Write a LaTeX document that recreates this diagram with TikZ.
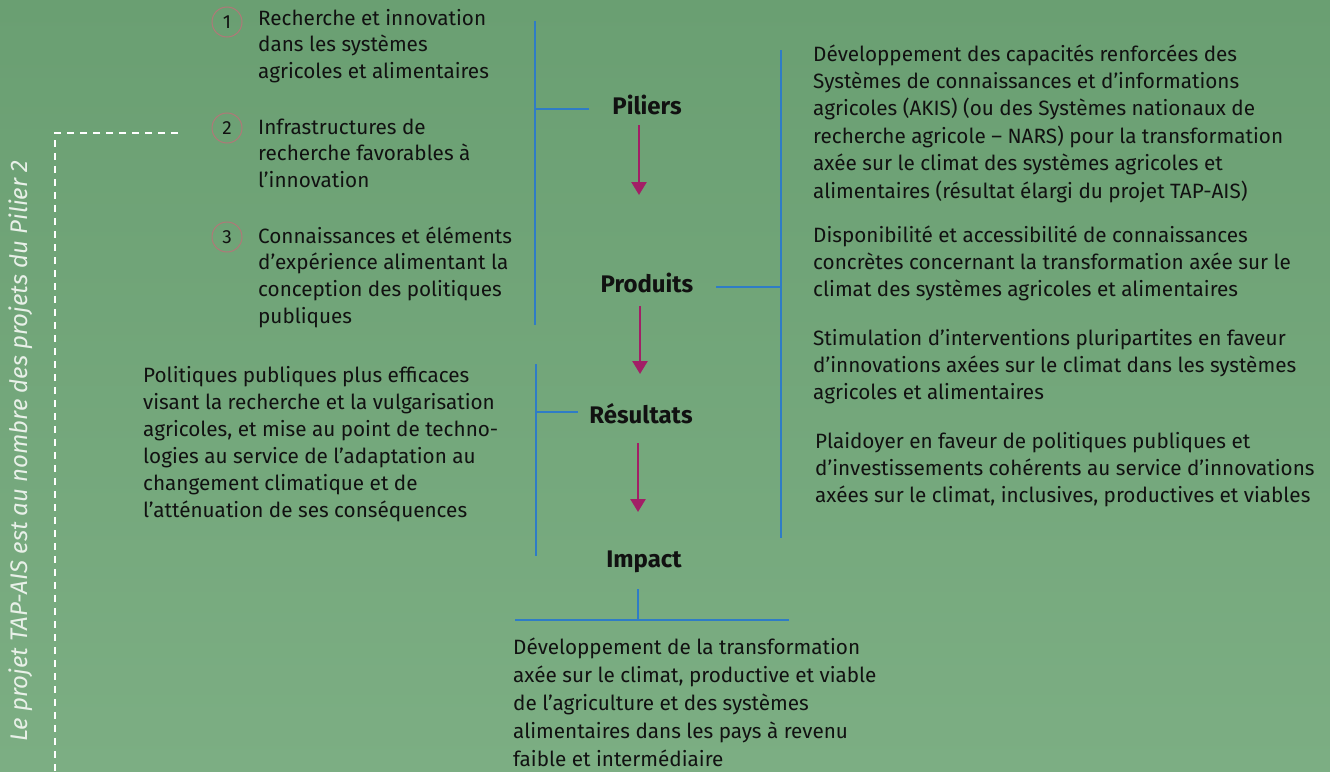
\documentclass[tikz,border=0pt]{standalone}
\usepackage{fontspec}
\setmainfont{Fira Sans}
\usetikzlibrary{arrows.meta}
\definecolor{bgtop}{HTML}{6A9F72}
\definecolor{bgbot}{HTML}{7CAE83}
\definecolor{blueline}{HTML}{2F7CC6}
\definecolor{arrowc}{HTML}{A21F66}
\definecolor{circ}{HTML}{B07878}
\definecolor{txt}{HTML}{111111}
\definecolor{sidetxt}{HTML}{E8F0E8}
\tikzset{
 body/.style={anchor=base west, inner sep=0, align=left, text=txt},
 head/.style={anchor=base, inner sep=0, font=\fontsize{24}{28}\selectfont\bfseries, text=txt},
 num/.style={circle, draw=circ, line width=1pt, minimum size=30pt, inner sep=0, font=\fontsize{19}{19}\selectfont, text=txt},
 bline/.style={draw=blueline, line width=1.3pt},
 flow/.style={draw=arrowc, line width=2.6pt, -{Triangle[width=15pt,length=13pt]}},
 dashline/.style={draw=white, line width=2pt, dash pattern=on 7pt off 6pt},
}
\begin{document}
\begin{tikzpicture}[x=1pt,y=-1pt]
\useasboundingbox (0,0) rectangle (1330,771);
\shade[top color=bgtop, bottom color=bgbot] (0,0) rectangle (1330,771);

% side note
\coordinate (d1) at (178,133);
\coordinate (d2) at (55,133);
\coordinate (d3) at (55,771);
\draw[dashline] (d1) -- (d2) -- (d3);
\node[rotate=90, inner sep=0, font=\fontsize{24}{26}\selectfont\itshape, text=sidetxt] (side) at (21,451) {Le projet TAP-AIS est au nombre des projets du Pilier 2};

% pillars
\node[num] (n1) at (227,22) {1};
\node[num] (n2) at (227,128) {2};
\node[num] (n3) at (227,237) {3};
\node[body, font=\fontsize{20.7}{26.7}\selectfont] (p1) at (258,78.4) {Recherche et innovation\\dans les systèmes\\agricoles et alimentaires};
\node[body, font=\fontsize{20.7}{26.7}\selectfont] (p2) at (258,187.4) {Infrastructures de\\recherche favorables à\\l’innovation};
\node[body, font=\fontsize{20.7}{26.7}\selectfont] (p3) at (258,323.1) {Connaissances et éléments\\d’expérience alimentant la\\conception des politiques\\publiques};

% headings
\node[head] (pil) at (647,114) {Piliers};
\node[head] (pro) at (647,292) {Produits};
\node[head] (res) at (641,423) {Résultats};
\node[head] (imp) at (644,567) {Impact};

% flow arrows
\coordinate (a1s) at (639,125); \coordinate (a1e) at (639,195);
\coordinate (a2s) at (640,306); \coordinate (a2e) at (640,374);
\coordinate (a3s) at (638,443); \coordinate (a3e) at (638,512);
\draw[flow] (a1s) -- (a1e);
\draw[flow] (a2s) -- (a2e);
\draw[flow] (a3s) -- (a3e);

% bracket piliers
\coordinate (b1t) at (535,21); \coordinate (b1b) at (535,325);
\coordinate (b1m) at (535,109); \coordinate (b1e) at (589,109);
\draw[bline] (b1t) -- (b1b);
\draw[bline] (b1m) -- (b1e);

% bracket produits
\coordinate (b2t) at (781,50); \coordinate (b2b) at (781,538);
\coordinate (b2m) at (781,287); \coordinate (b2e) at (716,287);
\draw[bline] (b2t) -- (b2b);
\draw[bline] (b2e) -- (b2m);

% bracket resultats
\coordinate (b3t) at (536,364); \coordinate (b3b) at (536,556);
\coordinate (b3m) at (536,412); \coordinate (b3e) at (578,412);
\draw[bline] (b3t) -- (b3b);
\draw[bline] (b3m) -- (b3e);

% bracket impact
\coordinate (b4t) at (638,589); \coordinate (b4m) at (638,620);
\coordinate (b4l) at (515,620); \coordinate (b4r) at (789,620);
\draw[bline] (b4t) -- (b4m);
\draw[bline] (b4l) -- (b4r);

% produits texts
\node[body, font=\fontsize{20.7}{27.4}\selectfont] (o1) at (813,198) {Développement des capacités renforcées des\\Systèmes de connaissances et d'informations\\agricoles (AKIS) (ou des Systèmes nationaux de\\recherche agricole – NARS) pour la transformation\\axée sur le climat des systèmes agricoles et\\alimentaires (résultat élargi du projet TAP-AIS)};
\node[body, font=\fontsize{20.7}{27.4}\selectfont] (o2) at (813,296.8) {Disponibilité et accessibilité de connaissances\\concrètes concernant la transformation axée sur le\\climat des systèmes agricoles et alimentaires};
\node[body, font=\fontsize{20.7}{27.4}\selectfont] (o3) at (813,399.8) {Stimulation d’interventions pluripartites en faveur\\d’innovations axées sur le climat dans les systèmes\\agricoles et alimentaires};
\node[body, font=\fontsize{20.7}{27.4}\selectfont] (o4) at (815,502.8) {Plaidoyer en faveur de politiques publiques et\\d’investissements cohérents au service d’innovations\\axées sur le climat, inclusives, productives et viables};

% resultats text
\node[body, font=\fontsize{20.7}{27}\selectfont] (r1) at (143,517) {Politiques publiques plus efficaces\\visant la recherche et la vulgarisation\\agricoles, et mise au point de techno-\\logies au service de l’adaptation au\\changement climatique et de\\l’atténuation de ses conséquences};

% impact text
\node[body, font=\fontsize{20.7}{28}\selectfont] (i1) at (513,766) {Développement de la transformation\\axée sur le climat, productive et viable\\de l’agriculture et des systèmes\\alimentaires dans les pays à revenu\\faible et intermédiaire};
\end{tikzpicture}
\end{document}
